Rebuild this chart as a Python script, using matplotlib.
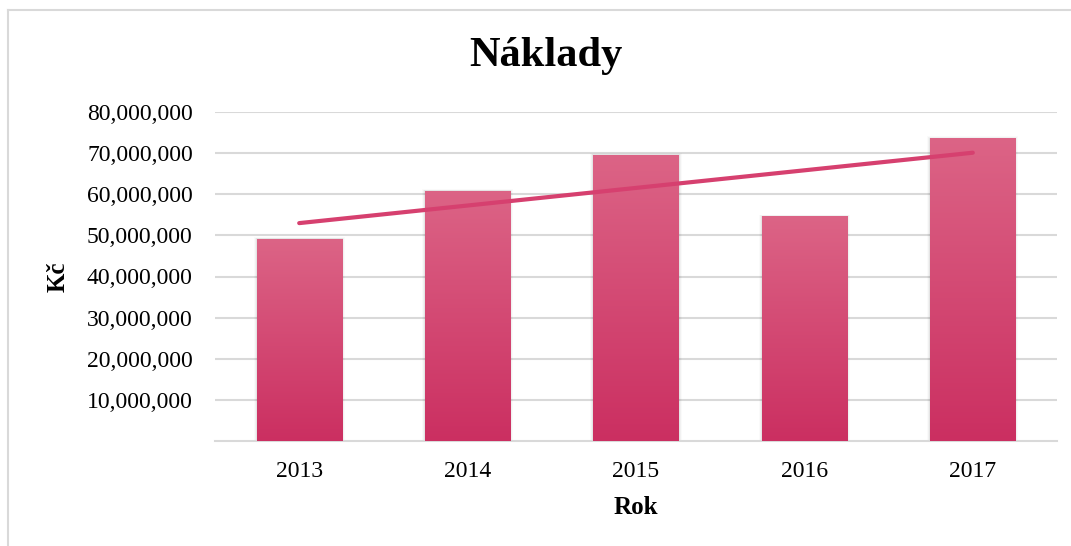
import numpy as np
import matplotlib
matplotlib.use("Agg")
import matplotlib.pyplot as plt
from matplotlib.colors import LinearSegmentedColormap
from matplotlib.lines import Line2D
from matplotlib.ticker import FuncFormatter

years = ["2013", "2014", "2015", "2016", "2017"]
costs = [49_100_000, 60_800_000, 69_600_000, 54_600_000, 73_600_000]
yticks = [10_000_000, 20_000_000, 30_000_000, 40_000_000,
          50_000_000, 60_000_000, 70_000_000, 80_000_000]

plt.rcParams['font.family'] = ['Liberation Serif', 'DejaVu Serif']

W, H = 1071, 546
fig = plt.figure(figsize=(W / 100, H / 100), dpi=100)
ax = fig.add_axes([215 / W, 1 - 441 / H, (1057 - 215) / W, (441 - 112) / H])

x = np.arange(len(years))
bar_w = 0.505
cmap = LinearSegmentedColormap.from_list("g", ["#CB2F61", "#DC6486"])
grad = np.linspace(0, 1, 256).reshape(-1, 1)

bars = ax.bar(x, costs, width=bar_w, color="none", edgecolor="none", zorder=3)
for b in bars:
    x0, y0 = b.get_x(), b.get_y()
    w, h = b.get_width(), b.get_height()
    # soft shadow
    for k, a in enumerate([0.05, 0.035, 0.02]):
        off = 0.006 * (k + 1)
        ax.add_patch(plt.Rectangle((x0 - off, y0), w + 2 * off, h + off * 2.5e7,
                                   color="black", alpha=a, lw=0, zorder=2))
    im = ax.imshow(grad, extent=[x0, x0 + w, y0, y0 + h], origin="lower",
                   cmap=cmap, aspect="auto", zorder=3)
    im.set_clip_path(b)

# linear trend line
coef = np.polyfit(x, costs, 1)
ax.plot(x, np.polyval(coef, x), color="#D6406F", lw=3, solid_capstyle="round", zorder=4)

ax.set_xlim(-0.5, len(years) - 0.5)
ax.set_ylim(0, 80_000_000)
ax.set_yticks(yticks)
ax.yaxis.set_major_formatter(FuncFormatter(lambda v, p: f"{int(v):,}"))
ax.set_xticks(x)
ax.set_xticklabels(years)
ax.grid(axis="y", color="#D9D9D9", lw=1.5, zorder=0)
ax.set_axisbelow(True)
for s in ["top", "right", "left"]:
    ax.spines[s].set_visible(False)
ax.spines["bottom"].set_color("#D9D9D9")
ax.spines["bottom"].set_linewidth(1.5)
ax.tick_params(axis="both", length=0, labelsize=17, colors="black")
ax.tick_params(axis="y", pad=16)
ax.tick_params(axis="x", pad=14.5)

fig.text(546 / W, 1 - 56 / H, "Náklady", ha="center", va="center",
         fontsize=30.5, fontweight="bold")
fig.text(58 / W, 1 - 277 / H, "Kč", ha="center", va="center", rotation=90,
         fontsize=18, fontweight="bold")
fig.text(636 / W, 1 - 507 / H, "Rok", ha="center", va="center",
         fontsize=18, fontweight="bold")

# outer chart border (top and left visible)
fig.add_artist(Line2D([8 / W, 1.0], [1 - 10 / H, 1 - 10 / H], color="#D9D9D9", lw=1.5))
fig.add_artist(Line2D([8 / W, 8 / W], [0, 1 - 10 / H], color="#D9D9D9", lw=1.5))

fig.savefig("out.png", dpi=100)
